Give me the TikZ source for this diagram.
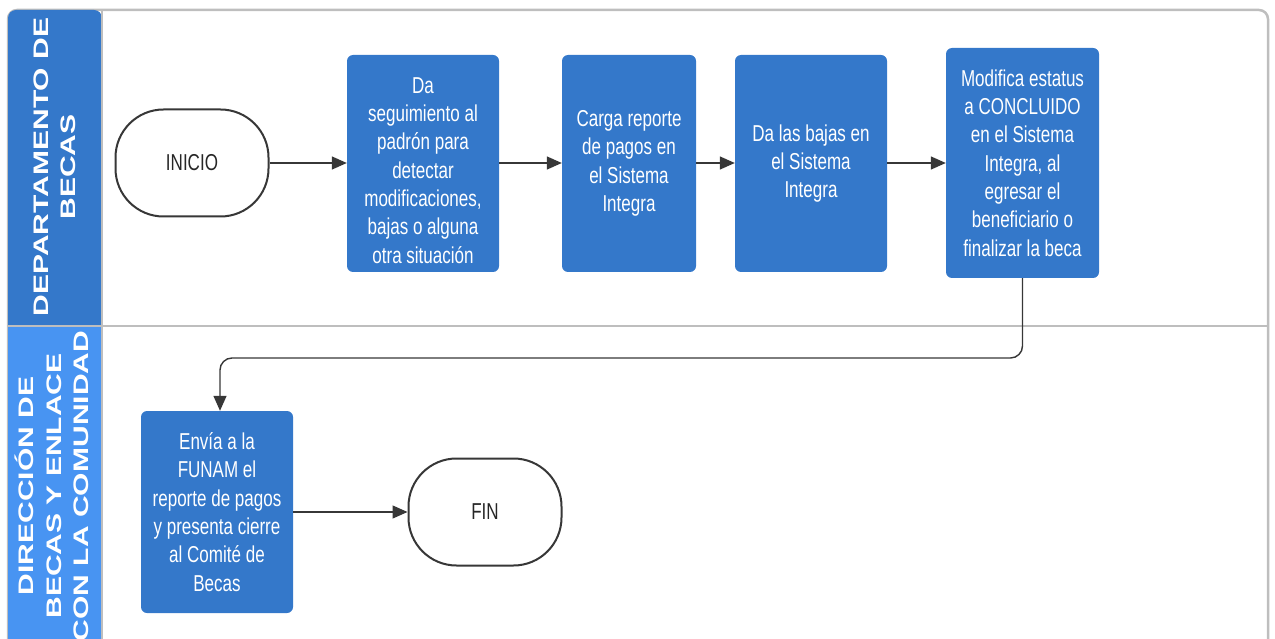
\documentclass[tikz,border=0pt]{standalone}
\usepackage{fontspec}
\setmainfont{Liberation Sans}
\newfontfamily\boxfont[FakeStretch=0.74]{Liberation Sans}
\newfontfamily\lanefont[FakeStretch=1.43]{Liberation Sans}
\usetikzlibrary{arrows.meta,calc}
\definecolor{boxblue}{RGB}{52,120,202}
\definecolor{laneA}{RGB}{52,120,202}
\definecolor{laneB}{RGB}{72,148,242}
\definecolor{framegrey}{RGB}{190,190,190}
\definecolor{linegrey}{RGB}{55,55,55}
\tikzset{
  procbox/.style={draw=none, fill=boxblue, rounded corners=6pt, text=white,
    align=center, font=\boxfont\fontsize{23}{28.3}\selectfont, inner sep=0pt},
  proctext/.style={text=white, align=center, font=\boxfont\fontsize{23}{28.3}\selectfont, inner sep=0pt},
  termbox/.style={draw=linegrey, line width=2pt, fill=white, rounded corners=48pt,
    minimum width=153pt, minimum height=107pt, align=center,
    font=\boxfont\fontsize{23}{28}\selectfont, text=black!85},
  flow/.style={draw=linegrey, line width=1.4pt, -{Triangle[length=15pt,width=13pt]}},
  lanetext/.style={text=white, rotate=90, align=center,
    font=\lanefont\bfseries\fontsize{21}{27.5}\selectfont},
}
\begin{document}
\begin{tikzpicture}[x=1pt,y=-1pt]
\useasboundingbox (0,0) rectangle (1275,639);
\clip (0,0) rectangle (1275,639);
% frame
\draw[framegrey, line width=2.5pt, rounded corners=9pt] (8,660) -- (8,10) -- (1268,10) -- (1268,660);
\fill[laneA, rounded corners=8pt] (8,660) -- (8,10) -- (102,10) -- (102,660);
\fill[laneA] (8,300) rectangle (102,325);
\fill[laneB, rounded corners=8pt] (8,327) rectangle (102,660);
\fill[laneB] (8,327) rectangle (102,350);
\draw[framegrey, line width=2.5pt] (102,10) -- (102,660);
\draw[framegrey, line width=2.5pt] (8,326) -- (1268,326);
\node[lanetext] (laneAlabel) at (55,167) {DEPARTAMENTO DE\\BECAS};
\node[lanetext] (laneBlabel) at (52,486) {DIRECCIÓN DE\\BECAS Y ENLACE\\CON LA COMUNIDAD};
% nodes
\node[termbox] (inicio) at (192,163) {INICIO};
\node[procbox, minimum width=152pt, minimum height=217pt] (b1) at (423,163.5) {};
\node[proctext] (b1text) at (423,170.5)
  {Da\\seguimiento al\\padrón para\\detectar\\modificaciones,\\bajas o alguna\\otra situación};
\node[procbox, minimum width=134pt, minimum height=217pt] (b2) at (629,163.5)
  {Carga reporte\\de pagos en\\el Sistema\\Integra};
\node[procbox, minimum width=152pt, minimum height=217pt] (b3) at (811,163.5)
  {Da las bajas en\\el Sistema\\Integra};
\node[procbox, minimum width=153pt, minimum height=230pt] (b4) at (1022.5,163)
  {Modifica estatus\\a CONCLUIDO\\en el Sistema\\Integra, al\\egresar el\\beneficiario o\\finalizar la beca};
\node[procbox, minimum width=152pt, minimum height=202pt] (b5) at (217,512)
  {Envía a la\\FUNAM el\\reporte de pagos\\y presenta cierre\\al Comité de\\Becas};
\node[termbox] (fin) at (485,512) {FIN};
% connectors
\draw[flow] (inicio.east) -- (inicio.east -| b1.west);
\draw[flow] (b1.east |- inicio.east) -- (b2.west |- inicio.east);
\draw[flow] (b2.east |- inicio.east) -- (b3.west |- inicio.east);
\draw[flow] (b3.east |- inicio.east) -- (b4.west |- inicio.east);
\coordinate (turnA) at (1022.5,358);
\coordinate (turnB) at (220,358);
\draw[flow, rounded corners=12pt] (b4.south) -- (turnA) -- (turnB) -- (b5.north -| turnB);
\draw[flow] (b5.east |- fin.west) -- (fin.west);
\end{tikzpicture}
\end{document}
